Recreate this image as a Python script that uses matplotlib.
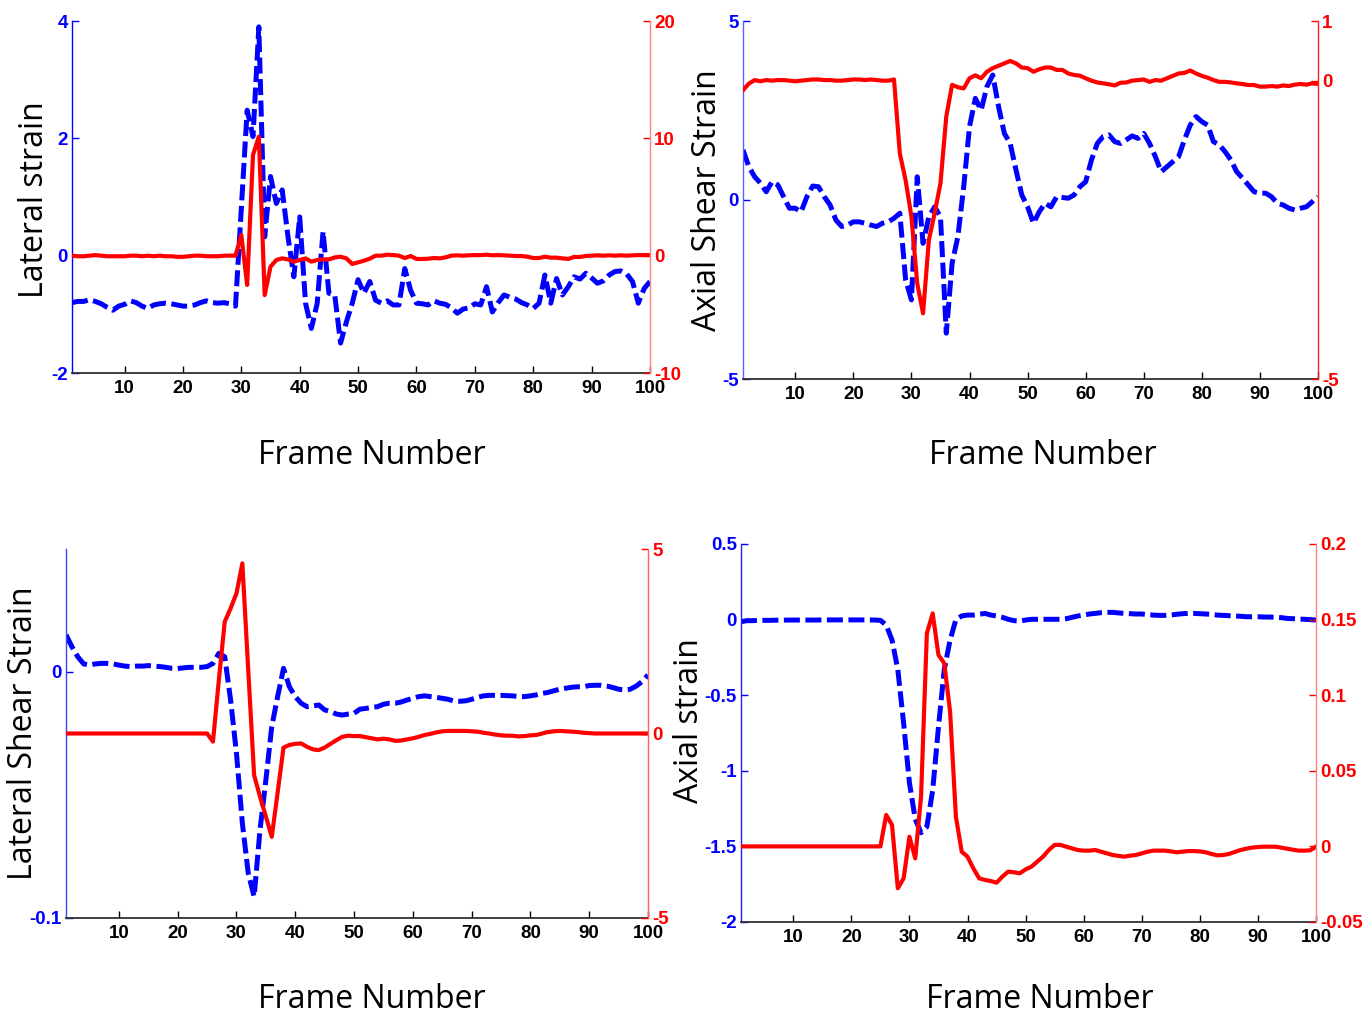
import matplotlib
matplotlib.use("Agg")
import matplotlib.pyplot as plt
import numpy as np

frames = np.arange(1, 101)

# ---- Panel 1: Lateral strain (left, blue dashed) / right axis (red solid)
lat_strain_blue = [
    -0.80, -0.78, -0.78, -0.75, -0.78, -0.82, -0.88, -0.93, -0.86, -0.83,
    -0.77, -0.80, -0.86, -0.90, -0.84, -0.82, -0.81, -0.82, -0.84, -0.86,
    -0.86, -0.84, -0.80, -0.77, -0.80, -0.81, -0.80, -0.82, -0.86, 0.80,
    2.48, 2.03, 3.90, 0.32, 1.35, 0.89, 1.12, 0.32, -0.36, 0.66,
    -0.81, -1.24, -0.81, 0.41, -0.64, -0.67, -1.49, -1.13, -0.81, -0.41,
    -0.64, -0.44, -0.76, -0.81, -0.77, -0.84, -0.84, -0.22, -0.59, -0.81,
    -0.82, -0.84, -0.77, -0.81, -0.83, -0.89, -0.98, -0.91, -0.89, -0.82,
    -0.84, -0.53, -0.96, -0.80, -0.67, -0.71, -0.74, -0.80, -0.84, -0.90,
    -0.81, -0.33, -0.81, -0.39, -0.67, -0.53, -0.36, -0.40, -0.30, -0.38,
    -0.47, -0.43, -0.33, -0.27, -0.26, -0.31, -0.44, -0.81, -0.56, -0.44]
lat_strain_red = [
    0.00, -0.05, -0.05, 0.00, 0.05, 0.00, -0.05, -0.05, -0.05, -0.05,
    0.00, 0.00, -0.05, 0.00, -0.05, 0.00, -0.05, -0.05, -0.10, -0.10,
    -0.05, 0.00, 0.00, -0.05, -0.05, -0.05, 0.00, 0.00, 0.00, 1.76,
    -2.50, 8.58, 10.14, -3.36, -0.94, -0.37, -0.23, -0.32, -0.51, -0.37,
    -0.23, -0.51, -0.37, -0.32, -0.32, -0.15, -0.09, -0.23, -0.71, -0.57,
    -0.43, -0.26, 0.00, 0.00, 0.08, 0.05, 0.00, -0.20, -0.03, -0.28,
    -0.28, -0.26, -0.20, -0.23, -0.14, 0.00, 0.03, 0.00, 0.03, 0.05,
    0.05, 0.08, 0.03, 0.05, 0.03, 0.00, -0.03, -0.03, -0.09, -0.20,
    -0.20, -0.09, -0.17, -0.17, -0.23, -0.28, -0.11, -0.11, -0.03, 0.00,
    0.03, 0.00, 0.03, 0.00, 0.03, 0.00, 0.03, 0.05, 0.05, 0.05]

# ---- Panel 2: Axial Shear Strain
ax_shear_blue = [
    1.40, 0.93, 0.65, 0.47, 0.23, 0.51, 0.42, 0.09, -0.23, -0.23,
    -0.33, 0.09, 0.39, 0.37, 0.09, -0.14, -0.56, -0.74, -0.70, -0.61,
    -0.61, -0.65, -0.70, -0.74, -0.65, -0.61, -0.51, -0.37, -2.23, -2.79,
    0.65, -1.21, -0.47, -0.19, -0.47, -3.72, -1.77, -1.02, 0.37, 2.05,
    2.84, 2.51, 3.17, 3.49, 2.61, 1.86, 1.58, 0.84, 0.14, -0.19,
    -0.65, -0.33, -0.09, -0.19, 0.09, 0.07, 0.05, 0.14, 0.37, 0.51,
    1.12, 1.58, 1.77, 1.82, 1.63, 1.58, 1.68, 1.79, 1.72, 1.86,
    1.58, 1.21, 0.79, 0.93, 1.07, 1.21, 1.68, 2.09, 2.33, 2.19,
    2.09, 1.63, 1.54, 1.35, 1.12, 0.79, 0.61, 0.42, 0.23, 0.19,
    0.19, 0.09, -0.09, -0.14, -0.23, -0.28, -0.23, -0.19, -0.05, 0.09]
ax_shear_red = [
    -0.16, -0.05, 0.01, -0.01, 0.01, 0.00, 0.01, 0.01, 0.00, -0.01,
    0.00, 0.01, 0.02, 0.02, 0.01, 0.01, 0.00, 0.00, 0.01, 0.02,
    0.02, 0.01, 0.02, 0.01, 0.00, 0.00, 0.02, -1.22, -1.67, -2.28,
    -3.40, -3.90, -2.67, -2.22, -1.72, -0.60, -0.07, -0.11, -0.13, 0.04,
    0.09, 0.04, 0.15, 0.21, 0.25, 0.29, 0.33, 0.29, 0.22, 0.21,
    0.15, 0.19, 0.22, 0.22, 0.18, 0.18, 0.12, 0.095, 0.084, 0.04,
    0.00, -0.03, -0.045, -0.06, -0.08, -0.035, -0.03, 0.00, 0.01, 0.02,
    -0.02, 0.01, 0.00, 0.04, 0.08, 0.12, 0.13, 0.17, 0.12, 0.08,
    0.05, 0.01, -0.02, -0.02, -0.03, -0.045, -0.056, -0.073, -0.073, -0.10,
    -0.10, -0.09, -0.10, -0.08, -0.09, -0.067, -0.056, -0.067, -0.045, -0.056]

# ---- Panel 3: Lateral Shear Strain
lat_shear_blue = [
    0.0151, 0.0103, 0.0062, 0.0033, 0.0028, 0.0033, 0.0035, 0.0035, 0.0033, 0.0028,
    0.0024, 0.0022, 0.0024, 0.0024, 0.0026, 0.0024, 0.0022, 0.0019, 0.0015, 0.0014,
    0.0017, 0.0019, 0.0019, 0.0019, 0.0022, 0.0035, 0.0076, 0.0062, -0.0114, -0.0331,
    -0.0615, -0.0818, -0.0913, -0.0642, -0.0439, -0.0222, -0.0100, 0.0015, -0.0060, -0.0100,
    -0.0127, -0.0141, -0.0138, -0.0134, -0.0154, -0.0161, -0.0171, -0.0175, -0.0171, -0.0168,
    -0.0151, -0.0148, -0.0144, -0.0141, -0.0131, -0.0127, -0.0127, -0.0122, -0.0114, -0.0107,
    -0.0100, -0.0097, -0.0100, -0.0103, -0.0107, -0.0111, -0.0118, -0.0119, -0.0117, -0.0111,
    -0.0103, -0.0097, -0.0095, -0.0095, -0.0095, -0.0096, -0.0097, -0.0100, -0.0100, -0.0097,
    -0.0093, -0.0087, -0.0083, -0.0076, -0.0070, -0.0066, -0.0062, -0.0060, -0.0060, -0.0055,
    -0.0054, -0.0054, -0.0057, -0.0063, -0.0070, -0.0073, -0.0070, -0.0057, -0.0039, -0.0012]
lat_shear_red = [
    0.0, 0.0, 0.0, 0.0, 0.0, 0.0, 0.0, 0.0, 0.0, 0.0,
    0.0, 0.0, 0.0, 0.0, 0.0, 0.0, 0.0, 0.0, 0.0, 0.0,
    0.0, 0.0, 0.0, 0.0, 0.0, -0.22, 1.45, 3.03, 3.39, 3.80,
    4.61, 1.72, -1.13, -1.71, -2.25, -2.80, -1.60, -0.38, -0.31, -0.28,
    -0.27, -0.36, -0.43, -0.45, -0.38, -0.28, -0.18, -0.09, -0.06, -0.07,
    -0.07, -0.10, -0.13, -0.16, -0.14, -0.16, -0.20, -0.19, -0.16, -0.13,
    -0.09, -0.04, -0.01, 0.03, 0.06, 0.07, 0.07, 0.07, 0.07, 0.06,
    0.05, 0.02, 0.00, -0.03, -0.05, -0.06, -0.06, -0.08, -0.07, -0.05,
    -0.04, 0.00, 0.04, 0.06, 0.07, 0.06, 0.05, 0.04, 0.02, 0.01,
    0.0, 0.0, 0.0, 0.0, 0.0, 0.0, 0.0, 0.0, 0.0, 0.0]

# ---- Panel 4: Axial strain
ax_strain_blue = [
    -0.014, -0.007, -0.007, -0.005, -0.005, -0.005, -0.004, -0.004, -0.003, -0.003,
    -0.003, -0.003, -0.003, -0.003, -0.002, -0.002, -0.002, -0.002, -0.002, -0.002,
    -0.002, -0.002, -0.002, -0.003, -0.005, -0.036, -0.135, -0.33, -0.686, -1.08,
    -1.32, -1.41, -1.37, -1.13, -0.71, -0.33, -0.135, 0.000, 0.024, 0.030,
    0.030, 0.035, 0.041, 0.030, 0.024, 0.015, 0.002, -0.007, -0.010, -0.003,
    0.002, 0.002, 0.002, 0.002, 0.002, 0.002, 0.006, 0.015, 0.024, 0.030,
    0.037, 0.041, 0.046, 0.048, 0.048, 0.044, 0.041, 0.039, 0.037, 0.037,
    0.033, 0.030, 0.028, 0.028, 0.030, 0.035, 0.039, 0.041, 0.041, 0.039,
    0.037, 0.035, 0.030, 0.028, 0.026, 0.024, 0.022, 0.019, 0.019, 0.019,
    0.017, 0.017, 0.015, 0.013, 0.008, 0.006, 0.004, 0.002, 0.000, -0.003]
ax_strain_red = [
    0.0, 0.0, 0.0, 0.0, 0.0, 0.0, 0.0, 0.0, 0.0, 0.0,
    0.0, 0.0, 0.0, 0.0, 0.0, 0.0, 0.0, 0.0, 0.0, 0.0,
    0.0, 0.0, 0.0, 0.0, 0.0, 0.0208, 0.0142, -0.0277, -0.0211, 0.0064,
    -0.0079, 0.0329, 0.1409, 0.1541, 0.1266, 0.1211, 0.0891, 0.0197, -0.0035, -0.0068,
    -0.0145, -0.0211, -0.0222, -0.0229, -0.0240, -0.0200, -0.0167, -0.0171, -0.0178, -0.0152,
    -0.0134, -0.0101, -0.0068, -0.0024, 0.0010, 0.0010, -0.0002, -0.0013, -0.0024, -0.0028,
    -0.0028, -0.0024, -0.0035, -0.0046, -0.0057, -0.0063, -0.0068, -0.0061, -0.0057, -0.0046,
    -0.0035, -0.0028, -0.0028, -0.0028, -0.0033, -0.0039, -0.0035, -0.0031, -0.0031, -0.0033,
    -0.0039, -0.0050, -0.0059, -0.0057, -0.0050, -0.0037, -0.0024, -0.0015, -0.0008, -0.0004,
    -0.0002, -0.0002, -0.0002, -0.0008, -0.0015, -0.0022, -0.0028, -0.0028, -0.0026, -0.0002]

x_ticks = [10, 20, 30, 40, 50, 60, 70, 80, 90, 100]

panels = [
    dict(pos=[72, 21, 650, 373], blue=lat_strain_blue, red=lat_strain_red,
         ylab="Lateral strain", lticks=[-2, 0, 2, 4], rticks=[-10, 0, 10, 20],
         lspine="#0000ff", rspine="#ff8080", ylabx=35, xlab=(372, 455), ylaby=200),
    dict(pos=[743, 21, 1318, 379], blue=ax_shear_blue, red=ax_shear_red,
         ylab="Axial Shear Strain", lticks=[-5, 0, 5], rticks=[-5, 0, 1],
         lspine="#6060ff", rspine="#ff2020", ylabx=708, xlab=(1043, 455), ylaby=200),
    dict(pos=[66, 549, 648, 918], blue=lat_shear_blue, red=lat_shear_red,
         ylab="Lateral Shear Strain", lticks=[-0.1, 0, 0.05], rticks=[-5, 0, 5],
         lspine="#4040ff", rspine="#ff6060", ylabx=24, xlab=(372, 1000), ylaby=733,
         lshow=[-0.1, 0]),
    dict(pos=[741, 544, 1316, 922], blue=ax_strain_blue, red=ax_strain_red,
         ylab="Axial strain", lticks=[-2, -1.5, -1, -0.5, 0, 0.5],
         rticks=[-0.05, 0, 0.05, 0.1, 0.15, 0.2],
         lspine="#2020ff", rspine="#ff8080", ylabx=690, xlab=(1040, 1000), ylaby=721),
]

W, H = 1372, 1025
fig = plt.figure(figsize=(W / 100, H / 100), dpi=100)
tick_font = dict(family="Liberation Sans", weight="bold", size=13.5)
lab_font = dict(family="Open Sans", size=23)

for p in panels:
    x0, y0, x1, y1 = p["pos"]
    ax = fig.add_axes([x0 / W, 1 - y1 / H, (x1 - x0) / W, (y1 - y0) / H])
    ax2 = ax.twinx()
    ax.plot(frames, p["blue"], color="#0000ff", lw=3.6, dashes=(3.2, 1.1),
            solid_joinstyle="miter", dash_capstyle="butt")
    ax2.plot(frames, p["red"], color="#ff0000", lw=3.0)
    ax.set_xlim(1, 100)
    lt = p["lticks"]
    rt = p["rticks"]
    ax.set_ylim(min(lt), max(lt))
    ax2.set_ylim(min(rt), max(rt))
    shown = p.get("lshow", lt)
    ax.set_yticks(shown)
    ax.set_yticklabels(["%g" % v for v in shown])
    ax2.set_yticks(rt)
    ax2.set_yticklabels(["%g" % v for v in rt])
    ax.set_xticks(x_ticks)
    ax.set_xticklabels([str(v) for v in x_ticks])
    for s in ["top", "right"]:
        ax.spines[s].set_visible(False)
    for s in ["top", "left", "bottom"]:
        ax2.spines[s].set_visible(False)
    ax.spines["left"].set_color(p["lspine"])
    ax.spines["left"].set_linewidth(1.0)
    ax.spines["bottom"].set_color("#303030")
    ax.spines["bottom"].set_linewidth(1.3)
    ax2.spines["right"].set_color(p["rspine"])
    ax2.spines["right"].set_linewidth(1.0)
    ax.tick_params(axis="x", direction="in", length=5, width=1, colors="black", pad=5)
    ax.tick_params(axis="y", direction="in", length=5, width=1, colors="#0000ff", pad=3)
    ax2.tick_params(axis="y", direction="in", length=5, width=1, colors="#ff0000", pad=3)
    for lbl in ax.get_xticklabels() + ax.get_yticklabels() + ax2.get_yticklabels():
        lbl.set_fontfamily(tick_font["family"])
        lbl.set_fontweight(tick_font["weight"])
        lbl.set_fontsize(tick_font["size"])
    ax.set_ylabel(p["ylab"], **lab_font)
    ax.set_xlabel("Frame Number", **lab_font)
    ax.yaxis.label.set_va("center")
    ax.xaxis.label.set_va("center")
    ax.yaxis.set_label_coords((p["ylabx"] - x0) / (x1 - x0), (y1 - p["ylaby"]) / (y1 - y0))
    ax.xaxis.set_label_coords((p["xlab"][0] - x0) / (x1 - x0), (y1 - p["xlab"][1]) / (y1 - y0))
    ax.set_zorder(1)
    ax2.set_zorder(2)
    ax.patch.set_visible(False)

fig.savefig("out.png", dpi=100)
